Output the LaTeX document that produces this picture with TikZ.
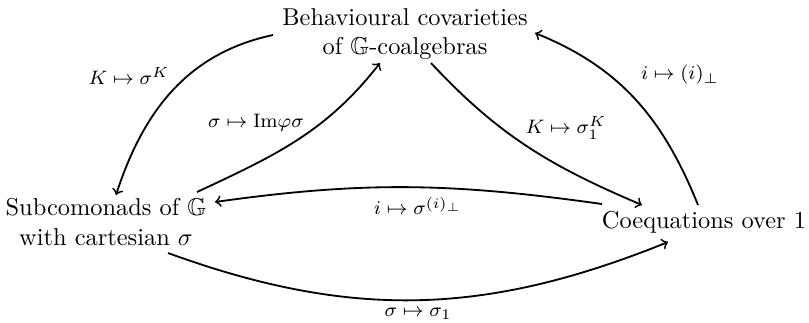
\documentclass[tikz,border=0pt]{standalone}
\usepackage{amssymb}
\begin{document}
\begin{tikzpicture}[x=0.41pt,y=-0.41pt,
  obj/.style={align=center,inner sep=1pt},
  lab/.style={font=\footnotesize,inner sep=1pt},
  arr/.style={->,line width=0.75pt}]
\useasboundingbox (0,0) rectangle (809,322);
\node[obj] (top) at (405,34) {Behavioural covarieties\\ of $\mathbb{G}$-coalgebras};
\node[obj] (left) at (106,222) {Subcomonads of $\mathbb{G}$\\ with cartesian $\sigma$};
\node[obj] (right) at (704,222) {Coequations over 1};
\coordinate (a1s) at (273,35);  \coordinate (a1e) at (116,195);
\coordinate (a2s) at (197,192); \coordinate (a2e) at (380,63);
\coordinate (a3s) at (431,63);  \coordinate (a3e) at (642,205);
\coordinate (a4s) at (698,205); \coordinate (a4e) at (535,33);
\coordinate (a5s) at (602,204); \coordinate (a5e) at (215,202);
\coordinate (a6s) at (168,253); \coordinate (a6e) at (668,242);
\draw[arr] (a1s) to[out=192,in=72] (a1e);
\draw[arr] (a2s) to[out=25,in=232] (a2e);
\draw[arr] (a3s) to[out=-47,in=157] (a3e);
\draw[arr] (a4s) to[out=112,in=-22] (a4e);
\draw[arr] (a5s) to[out=172,in=8] (a5e);
\draw[arr] (a6s) to[out=-20,in=202] (a6e);
\node[lab] (l1) at (129,76) {$K\mapsto\sigma^K$};
\node[lab] (l2) at (256,123) {$\sigma\mapsto\mathrm{Im}\varphi\sigma$};
\node[lab] (l3) at (566,128) {$K\mapsto\sigma_1^K$};
\node[lab] (l4) at (680,75) {$i\mapsto(i)_\perp$};
\node[lab] (l5) at (418,206) {$i\mapsto\sigma^{(i)_\perp}$};
\node[lab] (l6) at (418,314) {$\sigma\mapsto\sigma_1$};
\end{tikzpicture}
\end{document}
